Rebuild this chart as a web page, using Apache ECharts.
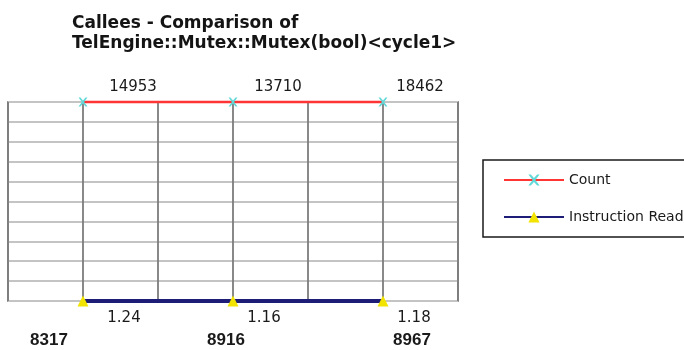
<!DOCTYPE html>
<html>
<head>
<meta charset="utf-8">
<script src="https://cdn.jsdelivr.net/npm/echarts@6/dist/echarts.min.js"></script>
<style>
  html, body { margin: 0; padding: 0; background: #ffffff; }
  #chart { width: 684px; height: 350px; }
</style>
</head>
<body>
<div id="chart"></div>
<script>
// Callee ids along the x axis
const categories = ['8317', '8916', '8967'];
// Metric values per callee
const countValues = [14953, 13710, 18462];
const instructionReadValues = [1.24, 1.16, 1.18];

// Each metric gets its own row: Count along the top edge, Instruction Read along the bottom
const ROW_MIN = 0;
const ROW_MAX = 10;

// Label nudges (px) relative to each point
const countLabelShift = [[50, -15], [45, -15], [37, -15]];
const readLabelShift = [[41, 17], [31, 17], [31, 17]];
// Horizontal nudge for the category labels
const catLabelShift = [-34, -7, 29];

const crossPath = 'path://M0,0 L2.2,0 L5,3.2 L7.8,0 L10,0 L6.2,5 L10,10 L7.8,10 L5,6.8 L2.2,10 L0,10 L3.8,5 Z';

function buildData(values, row, shifts) {
  return values.map((v, i) => ({
    value: [i, row, v],
    label: { offset: shifts[i] }
  }));
}

const rich = {};
catLabelShift.forEach((s, i) => {
  rich['c' + i] = {
    fontFamily: 'Liberation Sans',
    fontWeight: 'bold',
    fontSize: 17,
    color: '#1a1a1a',
    padding: s < 0 ? [0, -2 * s, 0, 0] : [0, 0, 0, 2 * s]
  };
});

const chart = echarts.init(document.getElementById('chart'), null, { renderer: 'canvas' });

chart.setOption({
  backgroundColor: '#ffffff',
  animation: false,
  title: {
    text: 'Callees - Comparison of\nTelEngine::Mutex::Mutex(bool)<cycle1>',
    left: 72,
    top: 14,
    padding: 0,
    textStyle: {
      fontFamily: 'DejaVu Sans',
      fontWeight: 'bold',
      fontSize: 17,
      lineHeight: 20,
      color: '#141414'
    }
  },
  legend: {
    orient: 'vertical',
    left: 483,
    top: 160,
    padding: [13, 40, 13, 20],
    itemWidth: 60,
    itemHeight: 14,
    itemGap: 23,
    borderColor: '#1a1a1a',
    borderWidth: 1.5,
    borderRadius: 0,
    backgroundColor: '#ffffff',
    textStyle: {
      fontFamily: 'DejaVu Sans',
      fontSize: 14,
      color: '#1a1a1a'
    },
    data: ['Count', 'Instruction Read']
  },
  grid: {
    left: 8,
    right: 226,
    top: 102,
    bottom: 49,
    show: true,
    borderColor: '#8e8e8e',
    borderWidth: 1.8,
    backgroundColor: 'transparent',
    containLabel: false,
    outerBoundsMode: 'none'
  },
  xAxis: {
    type: 'value',
    min: -0.5,
    max: 2.5,
    interval: 0.5,
    axisLine: { show: false },
    axisTick: { show: false },
    splitLine: { show: true, lineStyle: { color: '#7c7c7c', width: 1.8 } },
    axisLabel: {
      margin: 31,
      showMinLabel: true,
      showMaxLabel: true,
      formatter: function (v) {
        const i = Math.round(v);
        if (Math.abs(v - i) > 1e-6 || i < 0 || i >= categories.length) return '';
        return '{c' + i + '|' + categories[i] + '}';
      },
      rich: rich
    }
  },
  yAxis: {
    type: 'value',
    min: ROW_MIN,
    max: ROW_MAX,
    interval: 1,
    axisLine: { show: false },
    axisTick: { show: false },
    axisLabel: { show: false },
    splitLine: { show: true, lineStyle: { color: '#c4c4c4', width: 1.8 } }
  },
  series: [
    {
      name: 'Count',
      type: 'line',
      clip: false,
      z: 5,
      data: buildData(countValues, ROW_MAX, countLabelShift),
      symbol: crossPath,
      symbolSize: 9,
      showAllSymbol: true,
      lineStyle: { color: '#ff3535', width: 2.5 },
      itemStyle: { color: '#62d8d8' },
      label: {
        show: true,
        position: 'inside',
        fontFamily: 'DejaVu Sans',
        fontSize: 15,
        color: '#1a1a1a',
        formatter: p => String(p.value[2])
      }
    },
    {
      name: 'Instruction Read',
      type: 'line',
      clip: false,
      z: 5,
      data: buildData(instructionReadValues, ROW_MIN, readLabelShift),
      symbol: 'triangle',
      symbolSize: 11,
      showAllSymbol: true,
      lineStyle: { color: '#1d1d78', width: 4 },
      itemStyle: { color: '#f2e400' },
      label: {
        show: true,
        position: 'inside',
        fontFamily: 'DejaVu Sans',
        fontSize: 15,
        color: '#1a1a1a',
        formatter: p => p.value[2].toFixed(2)
      }
    }
  ]
});
</script>
</body>
</html>
